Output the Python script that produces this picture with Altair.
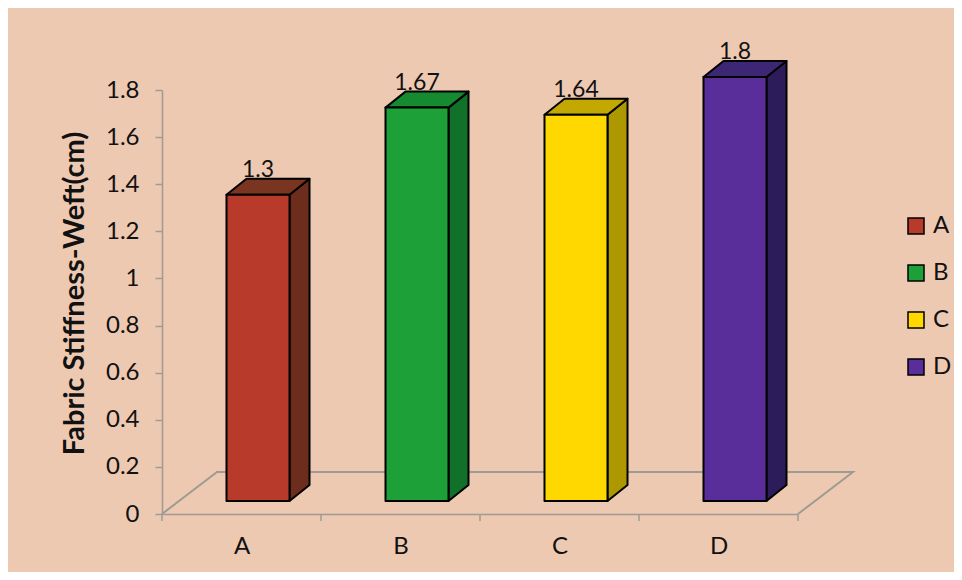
import json
import altair as alt
import pandas as pd

# ---------------- data ----------------
categories = ["A", "B", "C", "D"]
values = [1.3, 1.67, 1.64, 1.8]
front_colors = ["#B83A2A", "#1DA038", "#FFD800", "#5A2E9A"]
side_colors = ["#6C2D1C", "#127128", "#AE9800", "#2D1C5A"]
top_colors = ["#7A3520", "#168A30", "#C2A800", "#3D2775"]
y_ticks = [0, 0.2, 0.4, 0.6, 0.8, 1.0, 1.2, 1.4, 1.6, 1.8]
y_title = "Fabric Stiffness-Weft(cm)"

# ---------------- geometry (pixel -> data units) ----------------
W, H = 636, 424
YMAX = 1.8
N = len(categories)
ux = N / W
uy = YMAX / H
FX, FY = 16.5 * ux, 13 * uy      # shift of bar front face from floor front
HW = 31.5 * ux                   # half width of bar front face
DX, DY = 20 * ux, 16 * uy        # bar depth
FLX, FLY = 55 * ux, 42 * uy      # floor depth

front_rows, side_rows, top_rows, label_rows = [], [], [], []
for i, (c, v) in enumerate(zip(categories, values)):
    xc = i + 0.5 + FX
    xl, xr = xc - HW, xc + HW
    front_rows.append(dict(cat=c, xl=xl, xr=xr, y0=FY, y1=v + FY))
    side_rows += [
        dict(cat=c, col=side_colors[i], x=xr, lo=FY, hi=v + FY),
        dict(cat=c, col=side_colors[i], x=xr + DX, lo=FY + DY, hi=v + FY + DY),
    ]
    top_rows += [
        dict(cat=c, col=top_colors[i], y=v + FY, xa=xl, xb=xr),
        dict(cat=c, col=top_colors[i], y=v + FY + DY, xa=xl + DX, xb=xr + DX),
    ]
    label_rows.append(dict(cat=c, x=xc, y=v + FY + DY, val=v))

floor_df = pd.DataFrame(dict(
    x=[0, FLX, N + FLX, N], y=[0, FLY, FLY, 0], o=[0, 1, 2, 3]))
tick_df = pd.DataFrame(dict(x=list(range(N + 1)), y=[0] * (N + 1),
                            y2=[-7 * uy] * (N + 1)))

FONT = "Lato"
GRAY = "#9C9C94"
xscale = alt.Scale(domain=[0, N], nice=False, zero=False)
yscale = alt.Scale(domain=[0, YMAX], nice=False, zero=False)

xax = alt.Axis(values=[i + 0.5 for i in range(N)],
               labelExpr=json.dumps(categories) + "[floor(datum.value)]",
               ticks=False, tickSize=0, labelPadding=20, labelFont=FONT,
               labelFontSize=24, labelColor="#111", domainColor=GRAY,
               domainWidth=1.5, grid=False, title=None)
yax = alt.Axis(values=y_ticks, format="~g", title=y_title, titleFont=FONT,
               titleFontSize=29, titleFontWeight="bold", titleColor="#111",
               titleAngle=270, titleX=-79, titleY=203, titleAlign="center",
               titleBaseline="alphabetic", labelFont=FONT, labelFontSize=24,
               labelColor="#111", labelPadding=16, domainColor=GRAY,
               domainWidth=1.5, tickColor=GRAY, tickWidth=1.5, tickSize=7,
               grid=False)

X = lambda f: alt.X(f, type="quantitative", scale=xscale, axis=xax)
Y = lambda f: alt.Y(f, type="quantitative", scale=yscale, axis=yax)

floor = alt.Chart(floor_df).mark_line(color=GRAY, strokeWidth=2).encode(
    x=X("x"), y=Y("y"), order="o:Q")

ticks = alt.Chart(tick_df).mark_rule(color=GRAY, strokeWidth=1.5).encode(
    x=X("x"), y=Y("y"), y2="y2")

side = alt.Chart(pd.DataFrame(side_rows)).mark_area(
    stroke="black", strokeWidth=2, strokeJoin="round", opacity=1).encode(
    x=X("x"), y=Y("lo"), y2="hi", detail="cat:N",
    color=alt.Color("col:N", scale=None))

top = alt.Chart(pd.DataFrame(top_rows)).mark_area(
    orient="horizontal", stroke="black", strokeWidth=2, strokeJoin="round",
    opacity=1).encode(
    y=Y("y"), x=X("xa"), x2="xb", detail="cat:N",
    color=alt.Color("col:N", scale=None))

front = alt.Chart(pd.DataFrame(front_rows)).mark_rect(
    stroke="black", strokeWidth=2, strokeJoin="round").encode(
    x=X("xl"), x2="xr", y=Y("y0"), y2="y1",
    fill=alt.Fill("cat:N", scale=alt.Scale(domain=categories, range=front_colors),
                  legend=alt.Legend(title=None, orient="none", legendX=742,
                                    legendY=124, symbolType="square",
                                    symbolSize=256, symbolStrokeColor="black",
                                    symbolStrokeWidth=1.5, labelFont=FONT,
                                    labelFontSize=24, labelColor="#111",
                                    rowPadding=23, labelOffset=5, padding=0)))

labels = alt.Chart(pd.DataFrame(label_rows)).mark_text(
    font=FONT, fontSize=23, baseline="alphabetic", dy=-2, color="#111").encode(
    x=X("x"), y=Y("y"), text=alt.Text("val:Q", format="~g"))

chart = alt.layer(floor, ticks, side, top, front, labels).properties(
    width=W, height=H,
    autosize=alt.AutoSizeParams(type="none"),
    padding={"left": 154, "top": 82, "right": 156, "bottom": 58},
    background="#EEC9B2",
).configure_view(stroke=None)

chart.save("out.html", embed_options={"renderer": "svg", "actions": False})
